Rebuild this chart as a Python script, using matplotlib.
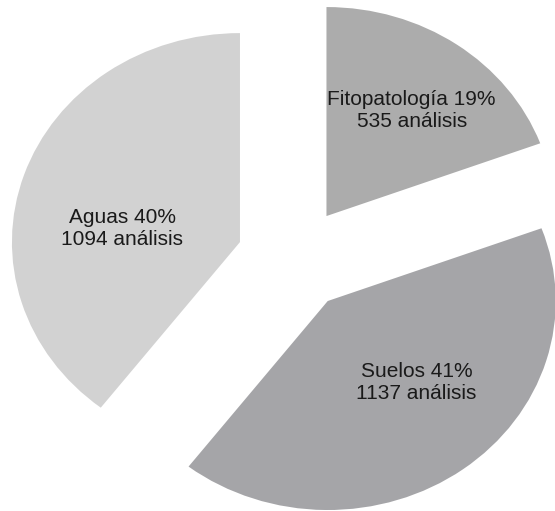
import matplotlib.pyplot as plt
import numpy as np

# Análisis realizados por área
areas = ['Fitopatología', 'Suelos', 'Aguas']
analisis = [535, 1137, 1094]
colores = ['#acacac', '#a5a5a8', '#d2d2d2']

total = sum(analisis)

fig = plt.figure(figsize=(5.55, 5.11), dpi=100)
ax = fig.add_axes([0, 0, 1, 1])

wedges, _ = ax.pie(analisis, colors=colores, startangle=90, counterclock=False,
                   explode=[0.25, 0.25, 0.25], radius=1.0,
                   wedgeprops=dict(linewidth=0))

# la figura original está algo achatada en vertical
ax.set_aspect('auto')
ax.set_xlim(-1.289, 1.145)
ax.set_ylim(-1.206, 1.239)
ax.axis('off')

# posición de cada etiqueta respecto al vértice de su sector (radio, ángulo)
pos_etiq = [(0.63, 53.6), (0.55, -45), (0.52, 172.6)]

for w, nombre, n, (r, ang) in zip(wedges, areas, analisis, pos_etiq):
    cx, cy = w.center
    tx = cx + r * np.cos(np.radians(ang))
    ty = cy + r * np.sin(np.radians(ang))
    pct = 100 * n / total
    ax.text(tx, ty, f'{nombre} {pct:.0f}%\n{n} análisis', ha='center', va='center',
            fontsize=15, family='Liberation Sans', color='#1a1a1a', linespacing=1.2)

fig.savefig('out.png', dpi=100)
